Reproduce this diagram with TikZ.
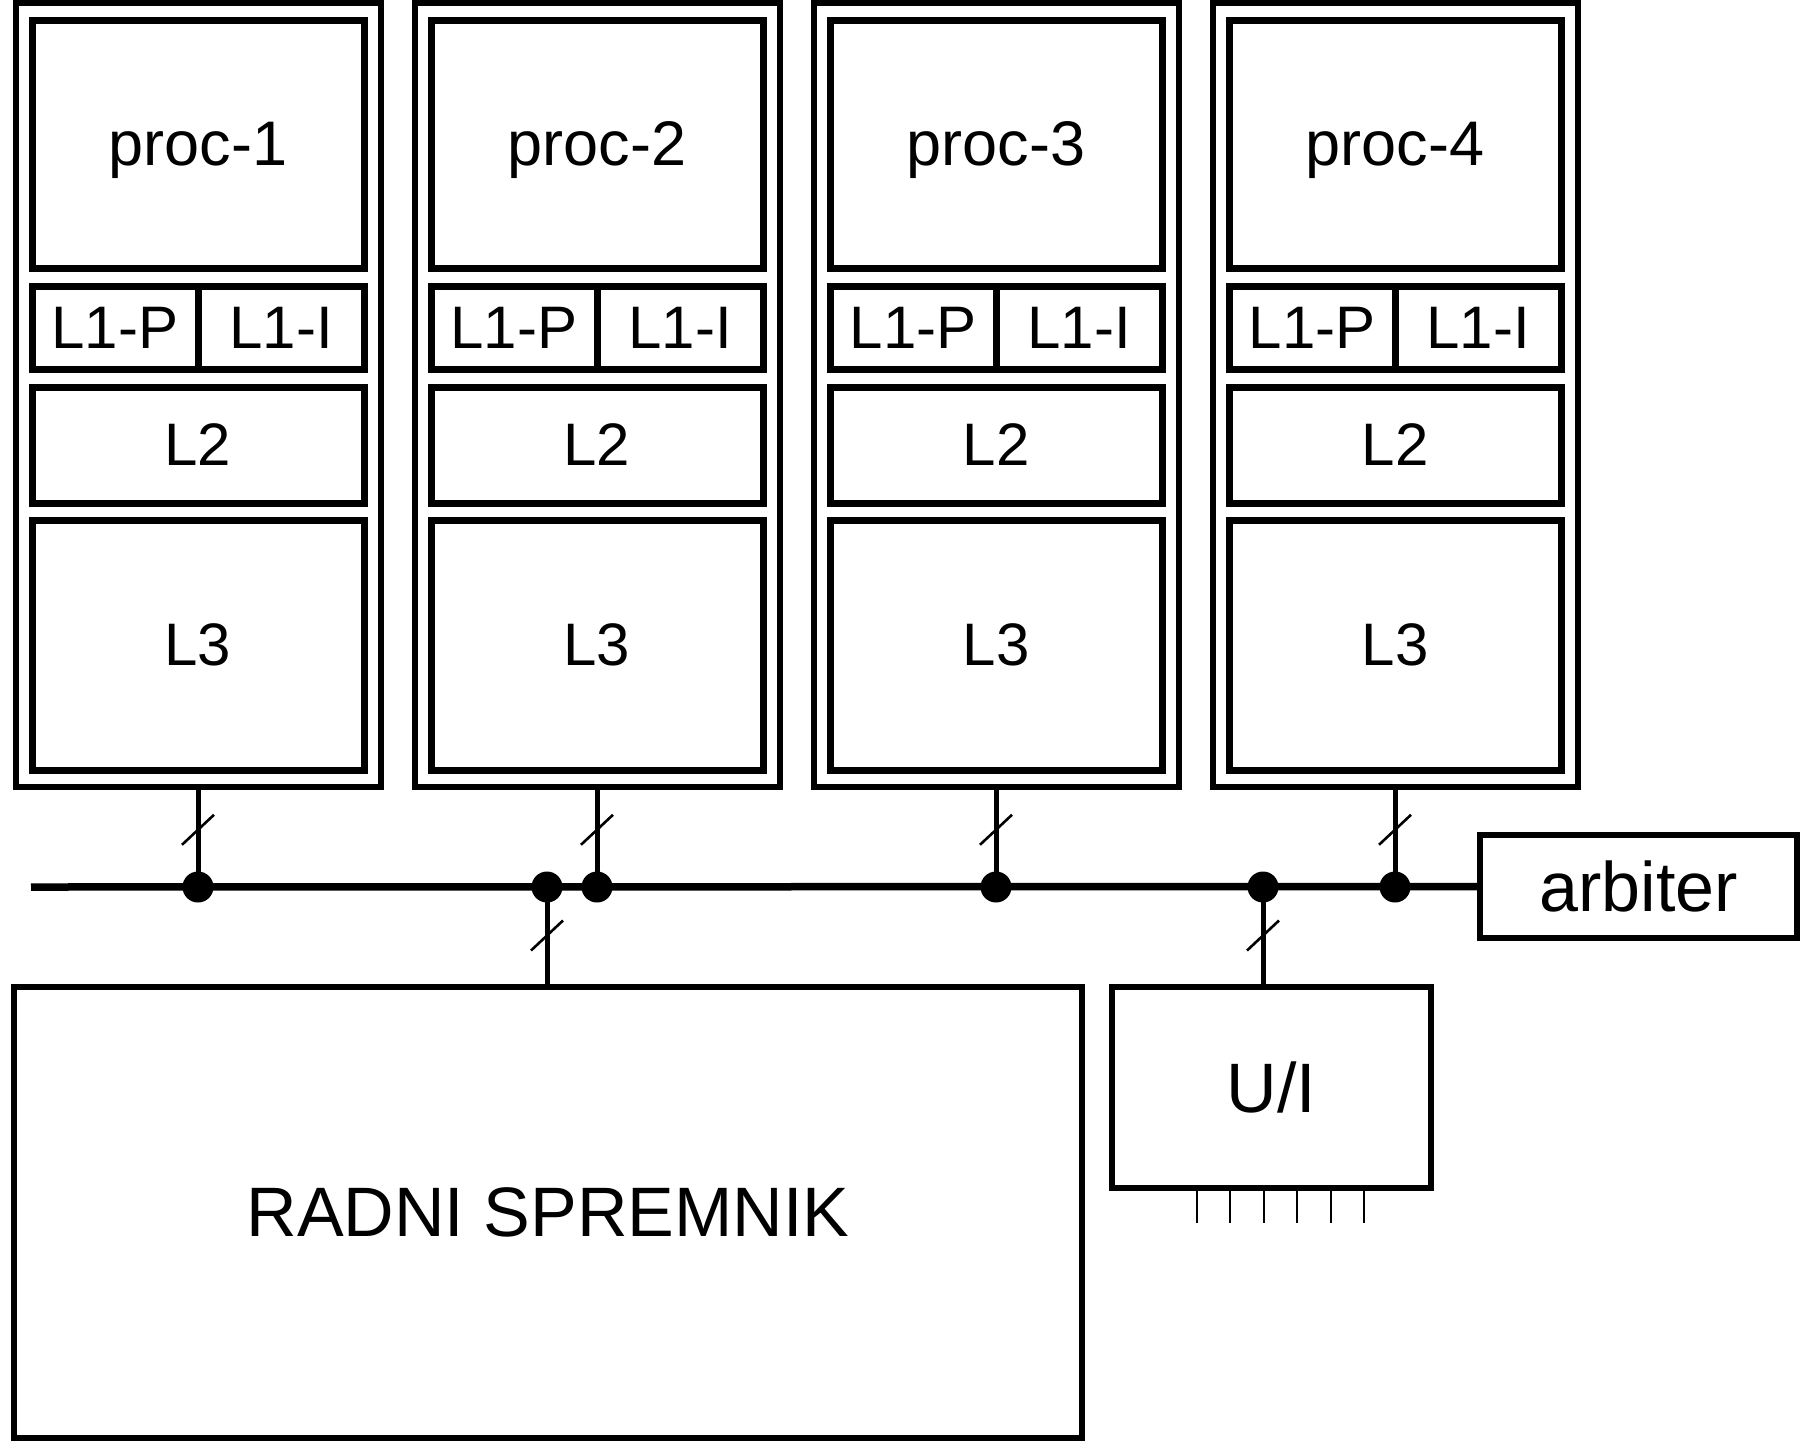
\documentclass[tikz,border=0pt]{standalone}
\usepackage{fontspec}
\setmainfont{Liberation Sans}
\usetikzlibrary{calc}
\begin{document}
\begin{tikzpicture}[x=0.5pt,y=-0.5pt,
 outerbox/.style={draw,line width=3pt,minimum width=182.5pt,minimum height=392pt,inner sep=0pt},
 cell/.style={draw,line width=3.5pt,inner sep=0pt,font=\fontsize{30}{32}\selectfont},
 procbox/.style={cell,minimum width=166pt,minimum height=124pt,text depth=0pt,font=\fontsize{31.5}{34}\selectfont},
 lonebox/.style={cell,minimum width=83pt,minimum height=41.5pt},
 ltwobox/.style={cell,minimum width=166pt,minimum height=58pt},
 lthreebox/.style={cell,minimum width=166pt,minimum height=125pt},
 bigbox/.style={draw,line width=3pt,inner sep=0pt,font=\fontsize{35}{38}\selectfont},
 junction/.style={circle,fill=black,inner sep=0pt,minimum size=15.5pt},
 bus/.style={line width=3.75pt},
 stub/.style={line width=2.5pt},
 slash/.style={line width=1.3pt},
 pin/.style={line width=1pt}]
\useasboundingbox (0,0) rectangle (1814,1440);

% processor modules
\foreach \i in {1,2,3,4} {
  \pgfmathsetmacro\o{399*(\i-1)}
  \node[outerbox] (out\i) at (198+\o,395) {};
  \node[procbox] (proc\i) at (198+\o,144) {proc-\i};
  \node[lonebox] (lp\i) at (115+\o,327.5) {L1-P};
  \node[lonebox] (li\i) at (281+\o,327.5) {L1-I};
  \node[ltwobox] (ltwo\i) at (198+\o,445) {L2};
  \node[lthreebox] (lthree\i) at (198+\o,645) {L3};
}

% memory, I/O, arbiter
\node[bigbox,minimum width=534pt,minimum height=225.5pt,font=\fontsize{35}{38}\selectfont] (mem) at (548,1212.5) {RADNI SPREMNIK};
\node[bigbox,minimum width=159.5pt,minimum height=100.5pt] (ui) at (1271.5,1087.5) {U/I};
\node[bigbox,minimum width=158.5pt,minimum height=51.5pt] (arb) at (1638.5,886.5) {arbiter};

% bus
\coordinate (busL) at (31,887);
\draw[bus] (busL) -- (arb.west);

% junction points
\foreach \i in {1,2,3,4} {
  \pgfmathsetmacro\o{399*(\i-1)}
  \coordinate (dp\i) at (198+\o,887);
}
\coordinate (dm) at (547,887);
\coordinate (du) at (1263,887);

% stubs from processors
\foreach \i in {1,2,3,4} {
  \draw[stub] (out\i.south) -- (dp\i);
  \draw[slash] ($(out\i.south)!0.41!(dp\i)$) ++(-16,15) -- ++(32,-30);
}
% stubs to memory and I/O
\draw[stub] (dm) -- (dm |- mem.north);
\draw[slash] ($(dm)!0.5!(dm |- mem.north)$) ++(-16,15) -- ++(32,-30);
\draw[stub] (du) -- (du |- ui.north);
\draw[slash] ($(du)!0.5!(du |- ui.north)$) ++(-16,15) -- ++(32,-30);

% dots
\foreach \i in {1,2,3,4} { \node[junction] (j\i) at (dp\i) {}; }
\node[junction] (jm) at (dm) {};
\node[junction] (ju) at (du) {};

% I/O pins
\foreach \k in {0,...,5} {
  \draw[pin] ($(ui.south)+(-74.5+33.4*\k,0)$) -- ++(0,32);
}
\end{tikzpicture}
\end{document}
